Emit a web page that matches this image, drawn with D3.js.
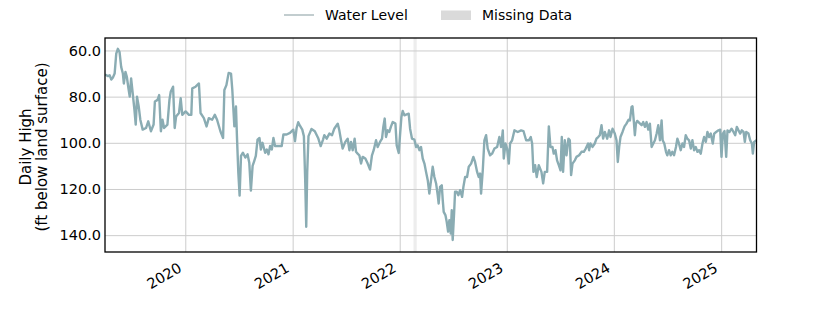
<!DOCTYPE html>
<html>
<head>
<meta charset="utf-8">
<script src="https://cdn.jsdelivr.net/npm/d3@7"></script>
<style>
  body { margin: 0; background: #fff; }
  svg text { font-family: "DejaVu Sans", sans-serif; fill: #000; }
  .grid line { stroke: #cccccc; stroke-width: 1; }
  .grid path { display: none; }
</style>
</head>
<body>
<div id="viz"></div>
<script>
// daily high water level, x as decimal year
const years = [
  2019.25, 2019.278, 2019.293, 2019.309, 2019.324, 2019.340, 2019.355, 2019.370, 2019.386, 2019.401,
  2019.417, 2019.426, 2019.441, 2019.454, 2019.469, 2019.481, 2019.494, 2019.509, 2019.525, 2019.537,
  2019.549, 2019.565, 2019.580, 2019.602, 2019.633, 2019.654, 2019.679, 2019.704, 2019.716, 2019.741,
  2019.756, 2019.772, 2019.787, 2019.802, 2019.833, 2019.852, 2019.864, 2019.886, 2019.901, 2019.914,
  2019.941, 2019.957, 2019.972, 2020.003, 2020.034, 2020.056, 2020.065, 2020.096, 2020.127, 2020.142,
  2020.173, 2020.198, 2020.219, 2020.250, 2020.275, 2020.296, 2020.327, 2020.352, 2020.364, 2020.383,
  2020.404, 2020.426, 2020.438, 2020.457, 2020.472, 2020.481, 2020.494, 2020.506, 2020.519, 2020.537,
  2020.559, 2020.580, 2020.596, 2020.611, 2020.627, 2020.642, 2020.657, 2020.673, 2020.691, 2020.704,
  2020.719, 2020.744, 2020.759, 2020.775, 2020.790, 2020.806, 2020.821, 2020.836, 2020.867, 2020.898,
  2020.914, 2020.944, 2020.975, 2021.006, 2021.022, 2021.037, 2021.052, 2021.068, 2021.090, 2021.105,
  2021.117, 2021.127, 2021.136, 2021.148, 2021.176, 2021.207, 2021.238, 2021.262, 2021.284,
  2021.296, 2021.318, 2021.343, 2021.368, 2021.389, 2021.421, 2021.436, 2021.452, 2021.467, 2021.492,
  2021.514, 2021.530, 2021.545, 2021.561, 2021.579, 2021.592, 2021.607, 2021.623, 2021.639, 2021.654,
  2021.679, 2021.701, 2021.723, 2021.741, 2021.757, 2021.779, 2021.794, 2021.816, 2021.835, 2021.847,
  2021.860, 2021.872, 2021.888, 2021.903, 2021.919, 2021.935, 2021.960, 2021.972, 2021.991, 2022.003,
  2022.016, 2022.028, 2022.044, 2022.065, 2022.084, 2022.097, 2022.115, 2022.137, 2022.153, 2022.168,
  2022.184, 2022.199, 2022.215, 2022.231, 2022.246, 2022.262, 2022.277, 2022.293, 2022.308, 2022.324,
  2022.340, 2022.355, 2022.364, 2022.377, 2022.393, 2022.402, 2022.411, 2022.427, 2022.439, 2022.452,
  2022.464, 2022.477, 2022.486, 2022.495, 2022.508, 2022.517, 2022.533, 2022.548, 2022.564, 2022.583,
  2022.595, 2022.611, 2022.629, 2022.645, 2022.667, 2022.688, 2022.704, 2022.723, 2022.738, 2022.751,
  2022.760, 2022.776, 2022.791, 2022.807, 2022.822, 2022.844, 2022.863, 2022.885, 2022.910, 2022.931,
  2022.947, 2022.963, 2022.972, 2022.988, 2023.003, 2023.019, 2023.031, 2023.050, 2023.072, 2023.103,
  2023.134, 2023.156, 2023.181, 2023.206, 2023.224, 2023.237, 2023.249, 2023.265, 2023.280, 2023.299,
  2023.324, 2023.340, 2023.355, 2023.377, 2023.393, 2023.408, 2023.427, 2023.439, 2023.455, 2023.470,
  2023.486, 2023.502, 2023.514, 2023.526, 2023.542, 2023.558, 2023.576, 2023.589, 2023.601, 2023.614,
  2023.636, 2023.651, 2023.676, 2023.698, 2023.720, 2023.738, 2023.760, 2023.769, 2023.782, 2023.801,
  2023.822, 2023.838, 2023.854, 2023.869, 2023.885, 2023.900, 2023.916, 2023.938, 2023.956, 2023.969,
  2023.988, 2024.009, 2024.025, 2024.037, 2024.050, 2024.062, 2024.081, 2024.100, 2024.118, 2024.137,
  2024.150, 2024.165, 2024.174, 2024.187, 2024.196, 2024.206, 2024.218, 2024.237, 2024.259, 2024.274,
  2024.290, 2024.305, 2024.321, 2024.336, 2024.352, 2024.368, 2024.383, 2024.399, 2024.414, 2024.430,
  2024.445, 2024.455, 2024.470, 2024.486, 2024.498, 2024.514, 2024.530, 2024.545, 2024.561, 2024.579,
  2024.592, 2024.607, 2024.623, 2024.639, 2024.654, 2024.670, 2024.685, 2024.701, 2024.717, 2024.732,
  2024.748, 2024.763, 2024.779, 2024.794, 2024.810, 2024.826, 2024.841, 2024.857, 2024.872, 2024.888,
  2024.903, 2024.922, 2024.935, 2024.953, 2024.975, 2024.991, 2025.003, 2025.016, 2025.031, 2025.047,
  2025.059, 2025.078, 2025.097, 2025.115, 2025.131, 2025.146, 2025.162, 2025.178, 2025.193, 2025.209,
  2025.221, 2025.234, 2025.255, 2025.271, 2025.287, 2025.296, 2025.308, 2025.33
];

const levels = [
  70.4, 71.1, 70.7, 72.6, 71.7, 70.0, 61.4, 59.3, 60.7, 67.1,
  70.0, 74.3, 69.3, 71.4, 76.4, 80.0, 72.1, 78.6, 85.7, 92.1,
  80.0, 84.3, 90.0, 94.3, 93.6, 90.7, 95.0, 92.1, 82.1, 81.4,
  79.3, 95.0, 90.0, 93.6, 92.1, 81.4, 77.9, 75.7, 93.6, 88.6,
  87.1, 80.7, 87.9, 86.4, 87.9, 87.9, 76.4, 75.7, 74.3, 87.1,
  89.3, 92.9, 89.3, 90.0, 87.9, 90.0, 95.0, 97.9, 77.1, 75.0,
  69.7, 70.0, 77.1, 92.9, 84.3, 97.1, 112.9, 122.9, 105.7, 104.3,
  106.4, 105.0, 108.6, 120.7, 110.0, 107.9, 105.7, 98.6, 97.9, 102.9,
  100.0, 104.3, 102.9, 105.0, 101.4, 102.9, 97.9, 101.4, 101.4, 101.4,
  96.4, 96.4, 95.7, 94.3, 99.3, 93.6, 91.1, 92.6, 94.3, 97.1,
  115.7, 136.4, 112.9, 97.1, 94.0, 95.0, 97.9, 101.4, 98.6,
  96.7, 98.2, 96.0, 96.7, 93.9, 91.7, 94.6, 98.9, 102.5, 99.6,
  98.2, 103.2, 99.6, 103.2, 98.2, 103.9, 104.7, 105.4, 109.0, 106.1,
  106.8, 109.0, 111.6, 105.4, 103.2, 98.9, 101.8, 99.6, 98.2, 93.1,
  89.5, 97.5, 94.6, 95.3, 92.9, 91.0, 91.7, 101.1, 104.4, 96.7,
  88.8, 86.2, 88.1, 87.7, 87.4, 93.9, 98.2, 98.6, 101.8, 101.1,
  103.2, 101.8, 106.8, 109.0, 112.6, 116.2, 122.0, 116.2, 110.4, 114.8,
  117.6, 122.7, 126.3, 119.1, 118.4, 124.8, 129.9, 131.3, 134.2, 138.5,
  133.5, 139.3, 129.2, 142.1, 130.6, 121.2, 121.2, 122.7, 120.5, 123.4,
  119.1, 114.8, 114.8, 110.4, 109.0, 106.1, 108.3, 112.6, 114.8, 113.3,
  122.0, 111.9, 98.9, 96.7, 102.5, 105.4, 104.7, 102.5, 101.8, 97.5,
  101.8, 94.6, 106.8, 100.3, 102.5, 109.0, 100.3, 98.9, 94.6, 95.3,
  94.6, 94.9, 98.9, 98.9, 97.5, 100.3, 112.6, 109.7, 114.8, 109.7,
  112.6, 117.6, 112.6, 112.6, 92.9, 101.8, 101.8, 104.7, 103.2, 107.6,
  109.7, 111.9, 97.5, 112.6, 98.9, 105.4, 98.2, 98.9, 114.0, 109.0,
  107.6, 106.1, 105.4, 103.9, 103.9, 102.5, 100.3, 103.2, 100.3, 101.8,
  100.3, 98.2, 97.5, 96.7, 92.4, 98.2, 95.3, 98.2, 94.6, 97.5,
  93.9, 96.0, 98.9, 108.3, 101.8, 97.5, 95.3, 92.9, 91.7, 90.0,
  90.3, 84.5, 84.2, 91.0, 96.7, 91.7, 90.5, 91.4, 92.4, 91.0,
  93.1, 91.0, 94.3, 91.7, 101.8, 100.3, 98.9, 96.0, 92.4, 98.9,
  90.3, 98.9, 100.3, 103.9, 105.4, 103.2, 105.4, 103.9, 105.4, 101.8,
  98.2, 100.3, 103.2, 100.3, 101.8, 96.7, 98.2, 98.9, 102.5, 98.9,
  103.2, 101.8, 103.9, 103.2, 104.7, 100.3, 97.5, 99.6, 95.3, 97.5,
  96.0, 100.3, 96.0, 95.3, 94.6, 94.3, 106.1, 96.0, 94.9, 106.1,
  94.6, 95.3, 93.9, 95.3, 96.7, 93.1, 94.6, 96.0, 94.6, 95.3,
  99.6, 95.3, 96.0, 98.9, 100.3, 104.7, 99.6, 98.9
];

const yTicks = [60, 80, 100, 120, 140];
const xTickYears = [2020, 2021, 2022, 2023, 2024, 2025];
const missingRange = ["2022-02-17", "2022-02-28"];
const legendLabels = ["Water Level", "Missing Data"];

// decimal year -> Date
function toDate(y) {
  let yr = Math.floor(y);
  let start = Date.UTC(yr, 0, 1);
  let end = Date.UTC(yr + 1, 0, 1);
  return new Date(start + (y - yr) * (end - start));
}

let data = years.map((y, i) => ({ date: toDate(y), level: levels[i] }));

let width = 840;
let height = 315;
let plotLeft = 105, plotRight = 756.5, plotTop = 38, plotBottom = 252;

let svg = d3.select('#viz').append('svg')
  .attr('width', width)
  .attr('height', height);

let xScale = d3.scaleUtc()
  .domain(d3.extent(data, d => d.date))
  .range([plotLeft, plotRight]);

// depth below surface, so larger values go down
let yScale = d3.scaleLinear()
  .domain([54.6, 147.3])
  .range([plotTop, plotBottom]);

// missing data band
let m0 = xScale(new Date(missingRange[0]));
let m1 = xScale(new Date(missingRange[1]));
svg.append('rect')
  .attr('x', m0)
  .attr('y', plotTop)
  .attr('width', m1 - m0)
  .attr('height', plotBottom - plotTop)
  .attr('fill', '#d3d3d3')
  .attr('opacity', 0.4);

// grid lines
svg.append('g')
  .attr('class', 'grid')
  .attr('transform', `translate(0, ${plotBottom})`)
  .call(d3.axisBottom(xScale)
    .tickValues(xTickYears.map(y => toDate(y)))
    .tickSize(-(plotBottom - plotTop))
    .tickFormat(''));

svg.append('g')
  .attr('class', 'grid')
  .attr('transform', `translate(${plotLeft}, 0)`)
  .call(d3.axisLeft(yScale)
    .tickValues(yTicks)
    .tickSize(-(plotRight - plotLeft))
    .tickFormat(''));

// water level line
svg.append('clipPath')
  .attr('id', 'clip')
  .append('rect')
  .attr('x', plotLeft)
  .attr('y', plotTop)
  .attr('width', plotRight - plotLeft)
  .attr('height', plotBottom - plotTop);

let line = d3.line()
  .x(d => xScale(d.date))
  .y(d => yScale(d.level));

svg.append('path')
  .datum(data)
  .attr('clip-path', 'url(#clip)')
  .attr('fill', 'none')
  .attr('stroke', '#8aacb3')
  .attr('stroke-width', 2.4)
  .attr('stroke-linejoin', 'round')
  .attr('d', line);

// axes frame
svg.append('rect')
  .attr('x', plotLeft)
  .attr('y', plotTop)
  .attr('width', plotRight - plotLeft)
  .attr('height', plotBottom - plotTop)
  .attr('fill', 'none')
  .attr('stroke', '#000')
  .attr('stroke-width', 1.3);

// x tick labels, rotated
let xAxis = svg.append('g')
  .attr('transform', `translate(0, ${plotBottom})`)
  .call(d3.axisBottom(xScale)
    .tickValues(xTickYears.map(y => toDate(y)))
    .tickSize(0)
    .tickFormat(d3.utcFormat('%Y')));
xAxis.select('.domain').remove();
xAxis.selectAll('text')
  .attr('x', 0)
  .attr('y', 0)
  .attr('dy', 0)
  .attr('font-size', 14.5)
  .attr('text-anchor', 'end')
  .attr('transform', 'translate(-3, 19) rotate(-30)');

let yAxis = svg.append('g')
  .attr('transform', `translate(${plotLeft}, 0)`)
  .call(d3.axisLeft(yScale)
    .tickValues(yTicks)
    .tickSize(0)
    .tickPadding(4)
    .tickFormat(d3.format('.1f')));
yAxis.select('.domain').remove();
yAxis.selectAll('text')
  .attr('font-size', 14.5);

// y axis label
let yLabel = svg.append('text')
  .attr('transform', `translate(0, ${(plotTop + plotBottom) / 2 + 2}) rotate(-90)`)
  .attr('text-anchor', 'middle')
  .attr('font-size', 15);
yLabel.append('tspan').attr('x', 0).attr('y', 31).text('Daily High');
yLabel.append('tspan').attr('x', 0).attr('y', 47).text('(ft below land surface)');

// legend
let legend = svg.append('g');
legend.append('line')
  .attr('x1', 284).attr('x2', 314)
  .attr('y1', 15).attr('y2', 15)
  .attr('stroke', '#9aacb0')
  .attr('stroke-width', 1.2);
legend.append('text')
  .attr('x', 325).attr('y', 15).attr('dy', '0.35em')
  .attr('font-size', 14)
  .text(legendLabels[0]);
legend.append('rect')
  .attr('x', 441).attr('y', 10.5)
  .attr('width', 30).attr('height', 9.5)
  .attr('fill', '#dadada');
legend.append('text')
  .attr('x', 482).attr('y', 15).attr('dy', '0.35em')
  .attr('font-size', 14)
  .text(legendLabels[1]);
</script>
</body>
</html>
